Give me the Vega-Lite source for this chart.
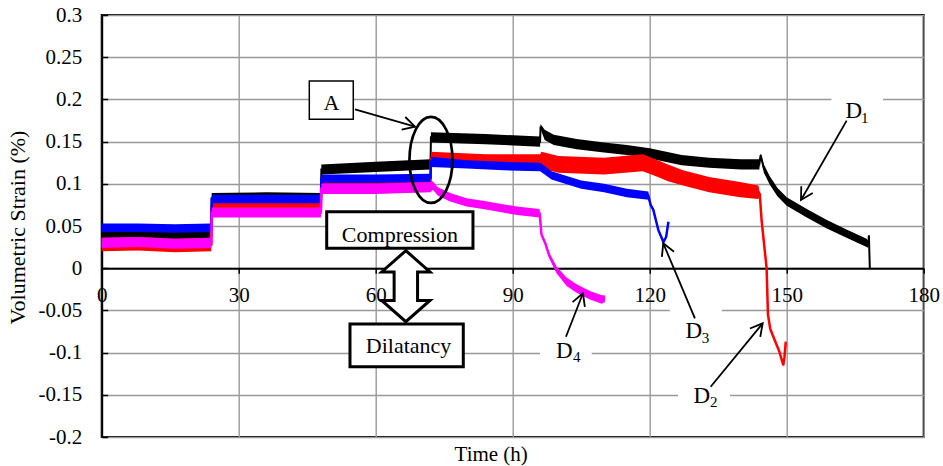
{
 "$schema": "https://vega.github.io/schema/vega-lite/v6.json",
 "width": 822, "height": 422,
 "autosize": "none",
 "padding": {"left": 101.7, "top": 15, "right": 19.3, "bottom": 29},
 "background": "white",
 "config": {"view": {"stroke": "#000000", "strokeWidth": 2}, "font": "Liberation Serif"},
 "datasets": {
  "d1": [
   {"t":0,"v":0.040,"lo":0.034,"hi":0.046},{"t":8,"v":0.041,"lo":0.035,"hi":0.047},{"t":16,"v":0.039,"lo":0.033,"hi":0.045},{"t":24,"v":0.040,"lo":0.034,"hi":0.046},
   {"t":24.1,"v":0.083,"lo":0.077,"hi":0.089},{"t":36,"v":0.084,"lo":0.078,"hi":0.090},{"t":48,"v":0.083,"lo":0.077,"hi":0.089},
   {"t":48.1,"v":0.117,"lo":0.111,"hi":0.123},{"t":60,"v":0.120,"lo":0.114,"hi":0.126},{"t":72,"v":0.123,"lo":0.117,"hi":0.129},
   {"t":72.1,"v":0.155,"lo":0.149,"hi":0.161},{"t":84,"v":0.153,"lo":0.147,"hi":0.159},{"t":96,"v":0.150,"lo":0.144,"hi":0.156},
   {"t":96.1,"v":0.168,"lo":0.165,"hi":0.171},{"t":97,"v":0.158,"lo":0.152,"hi":0.164},{"t":99,"v":0.152,"lo":0.146,"hi":0.158},
   {"t":104,"v":0.147,"lo":0.141,"hi":0.153},{"t":110,"v":0.143,"lo":0.137,"hi":0.149},{"t":115,"v":0.140,"lo":0.134,"hi":0.146},
   {"t":120,"v":0.136,"lo":0.130,"hi":0.142},{"t":127,"v":0.128,"lo":0.122,"hi":0.134},{"t":133,"v":0.125,"lo":0.119,"hi":0.131},
   {"t":140,"v":0.123,"lo":0.117,"hi":0.129},{"t":144,"v":0.123,"lo":0.117,"hi":0.129},{"t":144.3,"v":0.134,"lo":0.132,"hi":0.136},
   {"t":145,"v":0.118,"lo":0.113,"hi":0.123},{"t":146.3,"v":0.104,"lo":0.099,"hi":0.109},{"t":148,"v":0.090,"lo":0.085,"hi":0.095},
   {"t":150,"v":0.079,"lo":0.074,"hi":0.084},{"t":154.4,"v":0.065,"lo":0.060,"hi":0.070},{"t":158.8,"v":0.052,"lo":0.047,"hi":0.057},
   {"t":163.1,"v":0.041,"lo":0.036,"hi":0.046},{"t":167.5,"v":0.030,"lo":0.025,"hi":0.035},{"t":167.9,"v":0.028,"lo":0.024,"hi":0.032},
   {"t":168.0,"v":0.039,"lo":0.039,"hi":0.039},{"t":168.2,"v":0.0,"lo":0.0,"hi":0.0}
  ],
  "d2": [
   {"t":0,"v":0.028,"lo":0.020,"hi":0.036},{"t":8,"v":0.029,"lo":0.021,"hi":0.037},{"t":16,"v":0.027,"lo":0.019,"hi":0.035},{"t":24,"v":0.028,"lo":0.020,"hi":0.036},
   {"t":24.1,"v":0.072,"lo":0.065,"hi":0.079},{"t":36,"v":0.072,"lo":0.065,"hi":0.079},{"t":48,"v":0.072,"lo":0.065,"hi":0.079},
   {"t":48.1,"v":0.100,"lo":0.093,"hi":0.107},{"t":60,"v":0.100,"lo":0.093,"hi":0.107},{"t":72,"v":0.101,"lo":0.094,"hi":0.108},
   {"t":72.1,"v":0.130,"lo":0.122,"hi":0.138},{"t":84,"v":0.127,"lo":0.119,"hi":0.135},{"t":96,"v":0.127,"lo":0.119,"hi":0.135},
   {"t":96.3,"v":0.128,"lo":0.118,"hi":0.138},{"t":100,"v":0.123,"lo":0.113,"hi":0.133},{"t":110,"v":0.121,"lo":0.111,"hi":0.131},
   {"t":118.5,"v":0.125,"lo":0.115,"hi":0.135},{"t":121.8,"v":0.118,"lo":0.108,"hi":0.128},{"t":124,"v":0.113,"lo":0.103,"hi":0.123},
   {"t":127.3,"v":0.107,"lo":0.098,"hi":0.116},{"t":133,"v":0.099,"lo":0.090,"hi":0.108},{"t":139.8,"v":0.093,"lo":0.084,"hi":0.102},
   {"t":143.8,"v":0.090,"lo":0.082,"hi":0.098},{"t":144.1,"v":0.088,"lo":0.086,"hi":0.090},{"t":144.5,"v":0.057,"lo":0.057,"hi":0.057},
   {"t":145.6,"v":0.0,"lo":0.0,"hi":0.0},{"t":145.9,"v":-0.055,"lo":-0.055,"hi":-0.055},{"t":146.4,"v":-0.072,"lo":-0.072,"hi":-0.072},
   {"t":147.05,"v":-0.081,"lo":-0.081,"hi":-0.081},{"t":148.4,"v":-0.099,"lo":-0.099,"hi":-0.099},{"t":149.25,"v":-0.115,"lo":-0.117,"hi":-0.113},
   {"t":149.5,"v":-0.106,"lo":-0.106,"hi":-0.106},{"t":149.8,"v":-0.087,"lo":-0.087,"hi":-0.087}
  ],
  "d3": [
   {"t":0,"v":0.048,"lo":0.043,"hi":0.053},{"t":8,"v":0.048,"lo":0.043,"hi":0.053},{"t":16,"v":0.047,"lo":0.042,"hi":0.052},{"t":24,"v":0.048,"lo":0.043,"hi":0.053},
   {"t":24.1,"v":0.082,"lo":0.077,"hi":0.087},{"t":36,"v":0.082,"lo":0.077,"hi":0.087},{"t":48,"v":0.082,"lo":0.077,"hi":0.087},
   {"t":48.1,"v":0.106,"lo":0.101,"hi":0.111},{"t":60,"v":0.106,"lo":0.101,"hi":0.111},{"t":72,"v":0.107,"lo":0.102,"hi":0.112},
   {"t":72.1,"v":0.126,"lo":0.120,"hi":0.132},{"t":80,"v":0.123,"lo":0.118,"hi":0.128},{"t":88,"v":0.121,"lo":0.116,"hi":0.126},
   {"t":96,"v":0.120,"lo":0.115,"hi":0.125},{"t":97,"v":0.116,"lo":0.111,"hi":0.121},{"t":98.5,"v":0.110,"lo":0.105,"hi":0.115},
   {"t":105,"v":0.099,"lo":0.094,"hi":0.104},{"t":110,"v":0.095,"lo":0.090,"hi":0.100},{"t":115,"v":0.089,"lo":0.084,"hi":0.094},
   {"t":119.7,"v":0.086,"lo":0.081,"hi":0.091},{"t":120.2,"v":0.075,"lo":0.073,"hi":0.077},{"t":120.8,"v":0.069,"lo":0.068,"hi":0.070},
   {"t":121.9,"v":0.045,"lo":0.044,"hi":0.046},{"t":123.0,"v":0.031,"lo":0.029,"hi":0.033},{"t":123.6,"v":0.037,"lo":0.036,"hi":0.038},
   {"t":124.1,"v":0.055,"lo":0.055,"hi":0.055}
  ],
  "d4": [
   {"t":0,"v":0.030,"lo":0.024,"hi":0.036},{"t":8,"v":0.031,"lo":0.025,"hi":0.037},{"t":16,"v":0.029,"lo":0.023,"hi":0.035},{"t":24,"v":0.030,"lo":0.024,"hi":0.036},
   {"t":24.1,"v":0.066,"lo":0.060,"hi":0.072},{"t":36,"v":0.066,"lo":0.060,"hi":0.072},{"t":48,"v":0.066,"lo":0.060,"hi":0.072},
   {"t":48.1,"v":0.094,"lo":0.088,"hi":0.100},{"t":60,"v":0.094,"lo":0.088,"hi":0.100},{"t":72,"v":0.096,"lo":0.090,"hi":0.102},
   {"t":72.5,"v":0.098,"lo":0.093,"hi":0.103},{"t":73.6,"v":0.091,"lo":0.086,"hi":0.096},{"t":76.3,"v":0.084,"lo":0.079,"hi":0.089},
   {"t":79.9,"v":0.078,"lo":0.073,"hi":0.083},{"t":83.5,"v":0.075,"lo":0.070,"hi":0.080},{"t":90.9,"v":0.068,"lo":0.063,"hi":0.073},
   {"t":95.9,"v":0.065,"lo":0.060,"hi":0.070},{"t":96.3,"v":0.040,"lo":0.038,"hi":0.042},{"t":97.1,"v":0.030,"lo":0.028,"hi":0.032},
   {"t":98.0,"v":0.015,"lo":0.012,"hi":0.018},{"t":99.6,"v":-0.002,"lo":-0.006,"hi":0.002},{"t":101.8,"v":-0.016,"lo":-0.021,"hi":-0.011},
   {"t":104,"v":-0.024,"lo":-0.029,"hi":-0.019},{"t":106.9,"v":-0.032,"lo":-0.037,"hi":-0.027},{"t":109.5,"v":-0.037,"lo":-0.042,"hi":-0.032},
   {"t":110.2,"v":-0.036,"lo":-0.040,"hi":-0.032}
  ],
  "labelbg": [
   {"id":"D1","t1":159.8,"t2":171.1,"v1":0.1685,"v2":0.2088},
   {"id":"D4","t1":96.0,"t2":107.3,"v1":-0.1159,"v2":-0.0827},
   {"id":"D3","t1":124.4,"t2":135.8,"v1":-0.091,"v2":-0.0377},
   {"id":"D2","t1":126.2,"t2":137.6,"v1":-0.1703,"v2":-0.1325}
  ],
  "boxA": [{"id":"A","t1":45.46,"t2":55.09,"v1":0.1764,"v2":0.2218}],
  "boxes": [
   {"id":"Compression","t1":49.27,"t2":81.30,"v1":0.0236,"v2":0.0669},
   {"id":"Dilatancy","t1":54.37,"t2":79.18,"v1":-0.1167,"v2":-0.0661}
  ],
  "arrows": [
   {"id":"A","t":55.47,"v":0.1883,"t2":68.61,"v2":0.1677},
   {"id":"D1","t":163.13,"v":0.1748,"t2":153.13,"v2":0.0808},
   {"id":"D3","t":129.9,"v":-0.0594,"t2":122.97,"v2":0.0295},
   {"id":"D2","t":133.35,"v":-0.1404,"t2":144.74,"v2":-0.0653},
   {"id":"D4","t":101.66,"v":-0.0812,"t2":105.39,"v2":-0.0297}
  ],
  "ellipse": [{"t":72.1,"v":0.1283}],
  "dbl": [{"t":66.6,"v":-0.0213}],
  "bigtext": [
   {"label":"A","t":50.3,"v":0.1874},
   {"label":"Compression","t":65.3,"v":0.031},
   {"label":"Dilatancy","t":67.2,"v":-0.1001}
  ],
  "dtext": [
   {"label":"D","t":164.7,"v":0.178},
   {"label":"D","t":101.3,"v":-0.1068},
   {"label":"D","t":129.65,"v":-0.0831},
   {"label":"D","t":131.4,"v":-0.160}
  ],
  "subs": [
   {"label":"1","t":167.1,"v":0.1717},
   {"label":"4","t":104.0,"v":-0.1108},
   {"label":"3","t":132.2,"v":-0.089},
   {"label":"2","t":134.0,"v":-0.164}
  ]
 },
 "layer": [
  {"data":{"name":"d1"},"mark":{"type":"area","color":"#000000","opacity":1},
   "encoding":{
    "x":{"field":"t","type":"quantitative","scale":{"domain":[0,180],"nice":false,"zero":false},
     "axis":{"title":"Time (h)","offset":-168.8,"values":[0,30,60,90,120,150,180],"grid":true,"gridColor":"#999999","gridWidth":1.4,
      "domainColor":"#000000","domainWidth":2,"tickColor":"#000000","tickSize":5,"tickWidth":1.5,
      "labelFont":"Liberation Serif","labelFontSize":21,"labelColor":"#000000","labelPadding":11,"labelFlush":false,"labelOverlap":false,
      "titleFont":"Liberation Serif","titleFontSize":21,"titleFontWeight":"normal","titleColor":"#000000",
      "titleX":389,"titleY":192,"titleAlign":"center","titleBaseline":"alphabetic"}},
    "y":{"field":"lo","type":"quantitative","scale":{"domain":[-0.2,0.3],"nice":false,"zero":false},
     "axis":{"title":"Volumetric Strain (%)","values":[-0.2,-0.15,-0.1,-0.05,0,0.05,0.1,0.15,0.2,0.25,0.3],"labelExpr":"''+datum.value",
      "grid":true,"gridColor":"#999999","gridWidth":1.4,"domainColor":"#000000","domainWidth":2,"tickColor":"#000000","tickSize":-6,"tickWidth":1.5,
      "labelFont":"Liberation Serif","labelFontSize":21,"labelColor":"#000000","labelPadding":26,"labelFlush":false,"labelOverlap":false,
      "titleFont":"Liberation Serif","titleFontSize":22,"titleFontWeight":"normal","titleColor":"#000000",
      "titleX":-84,"titleY":212,"titleAngle":-90,"titleAlign":"center","titleBaseline":"middle"}},
    "y2":{"field":"hi"}}},
  {"data":{"name":"d1"},"mark":{"type":"line","color":"#000000","strokeWidth":2},
   "encoding":{"x":{"field":"t","type":"quantitative"},"y":{"field":"v","type":"quantitative"}}},
  {"data":{"name":"d2"},"mark":{"type":"area","color":"#ff0000","opacity":1},
   "encoding":{"x":{"field":"t","type":"quantitative"},"y":{"field":"lo","type":"quantitative"},"y2":{"field":"hi"}}},
  {"data":{"name":"d2"},"mark":{"type":"line","color":"#ff0000","strokeWidth":2.5},
   "encoding":{"x":{"field":"t","type":"quantitative"},"y":{"field":"v","type":"quantitative"}}},
  {"data":{"name":"d3"},"mark":{"type":"area","color":"#0000ff","opacity":1},
   "encoding":{"x":{"field":"t","type":"quantitative"},"y":{"field":"lo","type":"quantitative"},"y2":{"field":"hi"}}},
  {"data":{"name":"d3"},"mark":{"type":"line","color":"#0000ff","strokeWidth":2.5},
   "encoding":{"x":{"field":"t","type":"quantitative"},"y":{"field":"v","type":"quantitative"}}},
  {"data":{"name":"d4"},"mark":{"type":"area","color":"#ff00ff","opacity":1},
   "encoding":{"x":{"field":"t","type":"quantitative"},"y":{"field":"lo","type":"quantitative"},"y2":{"field":"hi"}}},
  {"data":{"name":"d4"},"mark":{"type":"line","color":"#ff00ff","strokeWidth":2.5},
   "encoding":{"x":{"field":"t","type":"quantitative"},"y":{"field":"v","type":"quantitative"}}},
  {"data":{"name":"labelbg"},"mark":{"type":"rect","fill":"#ffffff","stroke":null,"opacity":1},
   "encoding":{"x":{"field":"t1","type":"quantitative"},"x2":{"field":"t2"},"y":{"field":"v1","type":"quantitative"},"y2":{"field":"v2"}}},
  {"data":{"name":"boxA"},"mark":{"type":"rect","fill":"#ffffff","stroke":"#000000","strokeWidth":1.5,"opacity":1},
   "encoding":{"x":{"field":"t1","type":"quantitative"},"x2":{"field":"t2"},"y":{"field":"v1","type":"quantitative"},"y2":{"field":"v2"}}},
  {"data":{"name":"boxes"},"mark":{"type":"rect","fill":"#ffffff","stroke":"#000000","strokeWidth":3,"opacity":1},
   "encoding":{"x":{"field":"t1","type":"quantitative"},"x2":{"field":"t2"},"y":{"field":"v1","type":"quantitative"},"y2":{"field":"v2"}}},
  {"data":{"name":"dbl"},"mark":{"type":"point","shape":"M0,-1 L0.68,-0.4 L0.33,-0.4 L0.33,0.4 L0.68,0.4 L0,1 L-0.68,0.4 L-0.33,0.4 L-0.33,-0.4 L-0.68,-0.4 Z","size":5041,"filled":true,"fill":"#ffffff","stroke":"#000000","strokeWidth":3,"opacity":1},
   "encoding":{"x":{"field":"t","type":"quantitative"},"y":{"field":"v","type":"quantitative"}}},
  {"data":{"name":"ellipse"},"mark":{"type":"point","shape":"M0,-1 C0.276,-1 0.5,-0.552 0.5,0 C0.5,0.552 0.276,1 0,1 C-0.276,1 -0.5,0.552 -0.5,0 C-0.5,-0.552 -0.276,-1 0,-1 Z","size":7396,"filled":false,"color":"#000000","strokeWidth":2.7,"opacity":1},
   "encoding":{"x":{"field":"t","type":"quantitative"},"y":{"field":"v","type":"quantitative"}}},
  {"data":{"name":"arrows"},"mark":{"type":"rule","color":"#000000","strokeWidth":1.8},
   "encoding":{"x":{"field":"t","type":"quantitative"},"y":{"field":"v","type":"quantitative"},"x2":{"field":"t2"},"y2":{"field":"v2"}}},
  {"data":{"name":"arrows"},"transform":[{"filter":"datum.id == 'A'"}],"mark":{"type":"point","shape":"M-1,-0.55 L0,0 L-1,0.55","size":576,"filled":false,"color":"#000000","strokeWidth":1.8,"opacity":1,"angle":16},
   "encoding":{"x":{"field":"t2","type":"quantitative"},"y":{"field":"v2","type":"quantitative"}}},
  {"data":{"name":"arrows"},"transform":[{"filter":"datum.id == 'D1'"}],"mark":{"type":"point","shape":"M-1,-0.55 L0,0 L-1,0.55","size":576,"filled":false,"color":"#000000","strokeWidth":1.8,"opacity":1,"angle":120},
   "encoding":{"x":{"field":"t2","type":"quantitative"},"y":{"field":"v2","type":"quantitative"}}},
  {"data":{"name":"arrows"},"transform":[{"filter":"datum.id == 'D3'"}],"mark":{"type":"point","shape":"M-1,-0.55 L0,0 L-1,0.55","size":576,"filled":false,"color":"#000000","strokeWidth":1.8,"opacity":1,"angle":247},
   "encoding":{"x":{"field":"t2","type":"quantitative"},"y":{"field":"v2","type":"quantitative"}}},
  {"data":{"name":"arrows"},"transform":[{"filter":"datum.id == 'D2'"}],"mark":{"type":"point","shape":"M-1,-0.55 L0,0 L-1,0.55","size":576,"filled":false,"color":"#000000","strokeWidth":1.8,"opacity":1,"angle":309},
   "encoding":{"x":{"field":"t2","type":"quantitative"},"y":{"field":"v2","type":"quantitative"}}},
  {"data":{"name":"arrows"},"transform":[{"filter":"datum.id == 'D4'"}],"mark":{"type":"point","shape":"M-1,-0.55 L0,0 L-1,0.55","size":576,"filled":false,"color":"#000000","strokeWidth":1.8,"opacity":1,"angle":291},
   "encoding":{"x":{"field":"t2","type":"quantitative"},"y":{"field":"v2","type":"quantitative"}}},
  {"data":{"name":"bigtext"},"mark":{"type":"text","font":"Liberation Serif","fontSize":22,"color":"#000000","align":"center","baseline":"alphabetic"},
   "encoding":{"x":{"field":"t","type":"quantitative"},"y":{"field":"v","type":"quantitative"},"text":{"field":"label"}}},
  {"data":{"name":"dtext"},"mark":{"type":"text","font":"Liberation Serif","fontSize":23,"color":"#000000","align":"center","baseline":"alphabetic"},
   "encoding":{"x":{"field":"t","type":"quantitative"},"y":{"field":"v","type":"quantitative"},"text":{"field":"label"}}},
  {"data":{"name":"subs"},"mark":{"type":"text","font":"Liberation Serif","fontSize":15,"color":"#000000","align":"center","baseline":"alphabetic"},
   "encoding":{"x":{"field":"t","type":"quantitative"},"y":{"field":"v","type":"quantitative"},"text":{"field":"label"}}}
 ]
}
